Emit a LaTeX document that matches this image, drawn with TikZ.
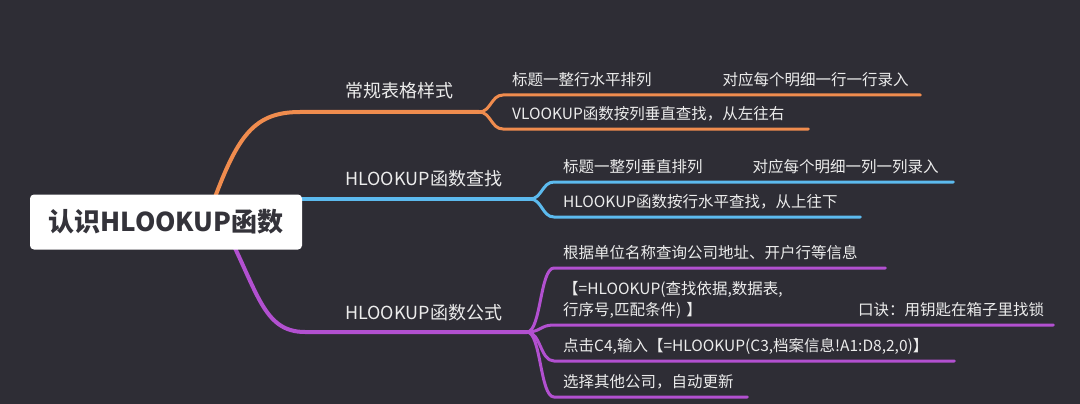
\documentclass[tikz,border=0pt]{standalone}
\usepackage{fontspec}
\setmainfont{Noto Sans CJK SC}
\usepackage{xcolor}
\usepackage{tikz}
\usetikzlibrary{calc}
\definecolor{bgdark}{RGB}{46,45,53}
\definecolor{mmorange}{RGB}{240,140,78}
\definecolor{mmblue}{RGB}{92,186,238}
\definecolor{mmpurple}{RGB}{178,80,208}
\definecolor{leaftext}{RGB}{236,236,236}
\definecolor{roottext}{RGB}{52,51,58}
\newcommand{\leafstrut}{\rule[-4pt]{0pt}{4pt}}

\begin{document}
\begin{tikzpicture}[x=1pt, y=-1pt,
  rootbox/.style={fill=white, rounded corners=4pt, minimum width=272pt, minimum height=55pt, inner sep=0pt, text=roottext, font=\fontsize{26}{30}\selectfont\bfseries},
  topic/.style={anchor=base west, inner sep=0pt, text=leaftext, font=\fontsize{18}{22}\selectfont},
  leaf/.style={anchor=south west, inner xsep=9pt, inner ysep=5pt, text=leaftext, align=left, font=\fontsize{15.5}{21}\selectfont, execute at end node=\leafstrut},
  mainline/.style={line width=4pt, line cap=round},
  leafline/.style={line width=3pt, line cap=round}
]
\useasboundingbox (0,0) rectangle (1080,404);
\fill[bgdark] (0,0) rectangle (1080,404);

\coordinate (rc) at (166,222);
\coordinate (of) at (479,112);
\coordinate (bf) at (530,199);
\coordinate (pf) at (527,332);

% main branches
\draw[mainline, mmorange] ($(rc)+(40,0)$) .. controls (235,140) and (250,112) .. (300,112) -- (of);
\draw[mainline, mmblue] (rc |- bf) -- (bf);
\draw[mainline, mmpurple] ($(rc)+(56,0)$) .. controls (258,290) and (262,332) .. (305,332) -- (pf);

\node[rootbox] (root) at (rc) {认识HLOOKUP函数};

\node[topic] (t1) at (345,98) {常规表格样式};
\node[topic] (t2) at (345,185) {HLOOKUP函数查找};
\node[topic] (t3) at (345,319) {HLOOKUP函数公式};

\node[leaf, text width=399pt] (o1) at (503,95) {标题一整行水平排列\kern71pt对应每个明细一行一行录入};
\node[leaf, text width=287pt] (o2) at (503,129) {VLOOKUP函数按列垂直查找，从左往右};
\node[leaf, text width=381pt] (b1) at (554,182) {标题一整列垂直排列\kern50pt对应每个明细一列一列录入};
\node[leaf, text width=288pt] (b2) at (554,217) {HLOOKUP函数按行水平查找，从上往下};
\node[leaf, text width=313pt] (p1) at (554,268) {根据单位名称查询公司地址、开户行等信息};
\node[leaf, text width=481pt] (p2) at (554,325) {【=HLOOKUP(查找依据,数据表,\\行序号,匹配条件) 】\hfill 口诀：用钥匙在箱子里找锁};
\node[leaf, text width=382pt] (p3) at (554,361) {点击C4,输入【=HLOOKUP(C3,档案信息!A1:D8,2,0)】};
\node[leaf, text width=175pt] (p4) at (554,397) {选择其他公司，自动更新};

% leaf lines
\foreach \n in {o1,o2}
  \draw[leafline, mmorange] (of) .. controls +(12,0) and +(-12,0) .. (\n.south west) -- (\n.south east);
\foreach \n in {b1,b2}
  \draw[leafline, mmblue] (bf) .. controls +(12,0) and +(-12,0) .. (\n.south west) -- (\n.south east);
\foreach \n in {p1,p2,p3,p4}
  \draw[leafline, mmpurple] (pf) .. controls +(14,0) and +(-14,0) .. (\n.south west) -- (\n.south east);
\end{tikzpicture}
\end{document}
